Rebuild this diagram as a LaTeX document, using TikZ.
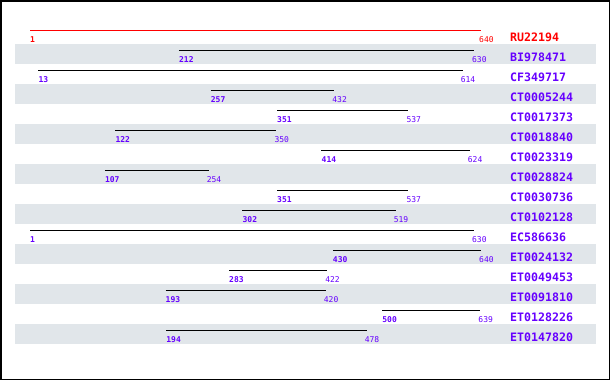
\documentclass[tikz,border=0pt]{standalone}
\usepackage{fontspec}
\newfontfamily\hitfont{DejaVu Sans Mono}
\usetikzlibrary{positioning}
\definecolor{bandgrey}{RGB}{225,230,234}
\definecolor{idpurple}{RGB}{102,0,255}
\definecolor{refred}{RGB}{255,0,0}

\begin{document}
\begin{tikzpicture}[
      x=1pt,y=-1pt,
      band/.style={
         fill=bandgrey,
         draw=none
      },
      hit/.style={
         line width=1pt,
         draw=black
      },
      coordlabel/.style={
         anchor=base west,
         inner sep=0pt,
         font=\hitfont\fontsize{8}{8}\selectfont,
         text=idpurple
      },
      startlabel/.style={
         coordlabel,
         font=\hitfont\bfseries\fontsize{8}{8}\selectfont
      },
      seqid/.style={
         anchor=base west,
         inner sep=0pt,
         font=\hitfont\bfseries\fontsize{11.6}{12}\selectfont,
         text=idpurple
      },
      frame/.style={line width=1.5pt,draw=black}
    ]
    \useasboundingbox (0,0) rectangle (610,380);
    \draw[frame] (0.75,0.75) rectangle (609.25,379.25);
    % grey bands on every second row
    \foreach \i in {1,3,...,15} {
       \fill[band] (15,24+20*\i) rectangle (596,44+20*\i);
    }
    % reference sequence
    \coordinate (a0) at (30,30);
    \coordinate (b0) at (481,30);
    \draw[hit,draw=refred] (a0) -- (b0);
    \node (s0) [startlabel,text=refred] at (30,42) {1};
    \node (e0) [coordlabel,text=refred] at (479,42) {640};
    \node (n0) [seqid,text=refred] at (510,41) {RU22194};
    % hits
    \foreach \name/\s/\e [count=\i] in {
       BI978471/212/630,
       CF349717/13/614,
       CT0005244/257/432,
       CT0017373/351/537,
       CT0018840/122/350,
       CT0023319/414/624,
       CT0028824/107/254,
       CT0030736/351/537,
       CT0102128/302/519,
       EC586636/1/630,
       ET0024132/430/640,
       ET0049453/283/422,
       ET0091810/193/420,
       ET0128226/500/639,
       ET0147820/194/478} {
       \pgfmathsetmacro{\xa}{30+(\s-1)/639*451}
       \pgfmathsetmacro{\xb}{30+(\e-1)/639*451}
       \pgfmathsetmacro{\yl}{30+20*\i}
       \coordinate (a\i) at (\xa,\yl);
       \coordinate (b\i) at (\xb,\yl);
       \draw[hit] (a\i) -- (b\i);
       \node (s\i) [startlabel] at (\xa,\yl+12) {\s};
       \node (e\i) [coordlabel] at (\xb-2,\yl+12) {\e};
       \node (n\i) [seqid] at (510,\yl+11) {\name};
    }
\end{tikzpicture}
\end{document}
